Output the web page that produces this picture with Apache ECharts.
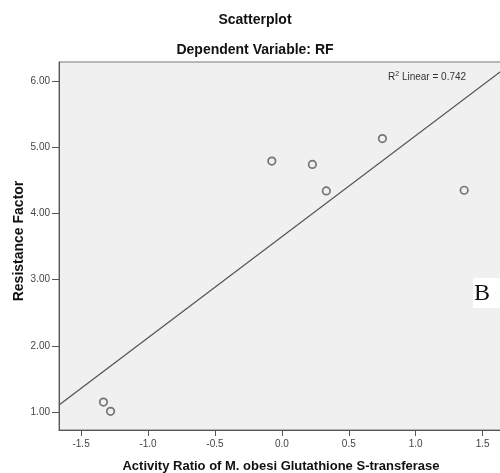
<!DOCTYPE html>
<html>
<head>
<meta charset="utf-8">
<script src="https://cdn.jsdelivr.net/npm/echarts@6/dist/echarts.min.js"></script>
<style>html,body{margin:0;padding:0;background:#fff}#c{width:500px;height:473px}</style>
</head>
<body>
<div id="c"></div>
<script>
// Data
var activityRatio = [-1.333, -1.280, -0.075, 0.228, 0.332, 0.751, 1.362];
var resistanceFactor = [1.15, 1.01, 4.79, 4.74, 4.34, 5.13, 4.35];
var xTickValues = [-1.5, -1.0, -0.5, 0.0, 0.5, 1.0, 1.5];
var yTickValues = [1, 2, 3, 4, 5, 6];
var rSquaredText = '0.742';
var xAxisTitle = 'Activity Ratio of M. obesi Glutathione S-transferase';
var yAxisTitle = 'Resistance Factor';
var xRange = [-1.665, 1.652];
var yRange = [0.728, 6.287];

// least squares fit from the points
var n = activityRatio.length, mx = 0, my = 0;
for (var i = 0; i < n; i++) { mx += activityRatio[i]; my += resistanceFactor[i]; }
mx /= n; my /= n;
var sxy = 0, sxx = 0;
for (var i = 0; i < n; i++) { sxy += (activityRatio[i]-mx)*(resistanceFactor[i]-my); sxx += (activityRatio[i]-mx)*(activityRatio[i]-mx); }
var slope = sxy / sxx, intercept = my - slope * mx;
var fitLine = [[xRange[0], intercept + slope*xRange[0]], [xRange[1], intercept + slope*xRange[1]]];

var pts = activityRatio.map(function(x, i){ return [x, resistanceFactor[i]]; });
var FONT = '"Liberation Sans", Arial, sans-serif';

var chart = echarts.init(document.getElementById('c'), null, {renderer: 'canvas'});
chart.setOption({
  animation: false,
  backgroundColor: '#ffffff',
  grid: {left: 59, top: 62, right: -3, bottom: 43, containLabel: false, outerBoundsMode: 'none',
    show: true, backgroundColor: '#f0f0f0', borderColor: '#777', borderWidth: 1},
  xAxis: {
    type: 'value', min: xRange[0], max: xRange[1],
    axisLine: {show: true, onZero: false, lineStyle: {color: '#555', width: 1}},
    axisTick: {show: true, length: 6, lineStyle: {color: '#555'}, customValues: xTickValues},
    axisLabel: {fontFamily: FONT, fontSize: 10, color: '#444', margin: 9, customValues: xTickValues,
      formatter: function(v){ return v.toFixed(1); }},
    splitLine: {show: false}
  },
  yAxis: {
    type: 'value', min: yRange[0], max: yRange[1],
    axisLine: {show: true, onZero: false, lineStyle: {color: '#555', width: 1}},
    axisTick: {show: true, length: 7, lineStyle: {color: '#555'}, customValues: yTickValues},
    axisLabel: {fontFamily: FONT, fontSize: 10, color: '#444', margin: 9, customValues: yTickValues,
      formatter: function(v){ return v.toFixed(2); }},
    splitLine: {show: false}
  },
  series: [
    {type: 'line', data: fitLine, symbol: 'none', clip: true,
     lineStyle: {color: '#555', width: 1.3}, silent: true},
    {type: 'scatter', data: pts, symbol: 'circle', symbolSize: 7.5,
     itemStyle: {color: '#f0f0f0', borderColor: '#555', borderWidth: 1.7}}
  ],
  graphic: [
    {type: 'text', style: {text: 'Scatterplot', x: 255, y: 20, align: 'center', verticalAlign: 'middle', font: 'bold 14px ' + FONT, fill: '#111'}},
    {type: 'text', style: {text: 'Dependent Variable: RF', x: 255, y: 50, align: 'center', verticalAlign: 'middle', font: 'bold 14px ' + FONT, fill: '#111'}},
    {type: 'text', style: {text: xAxisTitle, x: 281, y: 466, align: 'center', verticalAlign: 'middle', font: 'bold 13px ' + FONT, fill: '#111'}},
    {type: 'text', x: 19, y: 241, rotation: Math.PI / 2, style: {text: yAxisTitle, x: 0, y: 0, align: 'center', verticalAlign: 'middle', font: 'bold 14px ' + FONT, fill: '#111'}},
    {type: 'text', style: {rich: {n: {fontSize: 10, fontFamily: FONT, fill: '#333'}, s: {fontSize: 7, fontFamily: FONT, fill: '#333', verticalAlign: 'top', padding: [0,0,5,0]}},
      text: '{n|R}{s|2}{n| Linear = ' + rSquaredText + '}', x: 388, y: 77, verticalAlign: 'middle', align: 'left'}},
    {type: 'rect', shape: {x: 473, y: 278, width: 27, height: 30}, style: {fill: '#ffffff'}, z: 100},
    {type: 'text', style: {text: 'B', x: 482, y: 294, align: 'center', verticalAlign: 'middle', font: '24px "Liberation Serif", "Times New Roman", serif', fill: '#111'}, z: 101}
  ]
});
</script>
</body>
</html>
